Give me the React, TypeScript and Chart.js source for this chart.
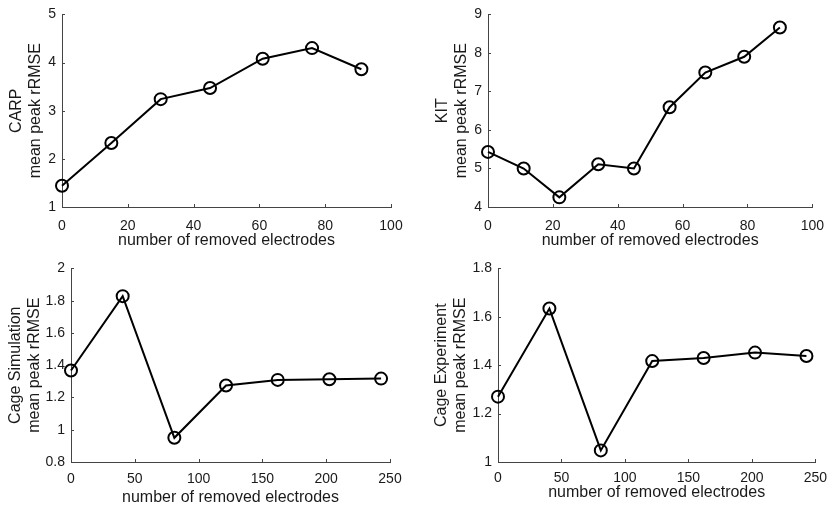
import React, { useEffect, useRef } from 'react';
import { Chart, registerables, ChartConfiguration, Plugin } from 'chart.js';
Chart.register(...registerables);

// values
const carpX = [0, 15, 30, 45, 61, 76, 91];
const carpY = [1.44, 2.33, 3.24, 3.47, 4.08, 4.3, 3.86];

const kitX = [0, 11, 22, 34, 45, 56, 67, 79, 90];
const kitY = [5.43, 5.0, 4.25, 5.11, 5.0, 6.59, 7.49, 7.9, 8.66];

const cageSimX = [0, 40.5, 81, 121.5, 162, 202.5, 243];
const cageSimY = [1.367, 1.828, 0.95, 1.274, 1.309, 1.313, 1.317];

const cageExpX = [0, 40.5, 81, 121.5, 162, 202.5, 243];
const cageExpY = [1.27, 1.634, 1.048, 1.417, 1.43, 1.452, 1.438];

const xTitle = 'number of removed electrodes';

const FONT = '"Liberation Sans", Arial, Helvetica, sans-serif';
const INK = '#1a1a1a';

// MATLAB-style ticks pointing into the plot area
const innerTicks: Plugin = {
  id: 'innerTicks',
  beforeDatasetsDraw(chart) {
    const { ctx, chartArea } = chart;
    const xs = chart.scales.x;
    const ys = chart.scales.y;
    ctx.save();
    ctx.strokeStyle = '#444';
    ctx.lineWidth = 1;
    ctx.beginPath();
    xs.ticks.forEach((t) => {
      const px = Math.round(xs.getPixelForValue(t.value)) + 0.5;
      ctx.moveTo(px, chartArea.bottom);
      ctx.lineTo(px, chartArea.bottom - 3);
    });
    ys.ticks.forEach((t) => {
      const py = Math.round(ys.getPixelForValue(t.value)) + 0.5;
      ctx.moveTo(chartArea.left, py);
      ctx.lineTo(chartArea.left + 3, py);
    });
    ctx.stroke();
    ctx.restore();
  },
};

const fmt = (v: string | number) => String(Number(Number(v).toFixed(1)));

interface PanelProps {
  xs: number[];
  ys: number[];
  name: string;
  xMax: number;
  xStep: number;
  yMin: number;
  yMax: number;
  yStep: number;
  left: number;
  top: number;
  width: number;
  height: number;
  pad: { top: number; right: number };
  yWidth: number;
  xHeight: number;
  yTitlePad: number;
  xTitlePad: number;
  xTickPad: number;
}

const Panel: React.FC<PanelProps> = (p) => {
  const canvasRef = useRef<HTMLCanvasElement>(null);

  useEffect(() => {
    if (!canvasRef.current) return;
    const config: ChartConfiguration<'line'> = {
      type: 'line',
      data: {
        datasets: [
          {
            data: p.xs.map((x, i) => ({ x, y: p.ys[i] })),
            borderColor: '#000',
            borderWidth: 2,
            pointRadius: 6,
            pointBorderWidth: 2,
            pointBorderColor: '#000',
            pointBackgroundColor: 'rgba(0,0,0,0)',
            tension: 0,
            clip: false,
          },
        ],
      },
      options: {
        animation: false,
        responsive: true,
        maintainAspectRatio: false,
        layout: { padding: { top: p.pad.top, right: p.pad.right, left: 0, bottom: 0 } },
        plugins: { legend: { display: false }, tooltip: { enabled: false } },
        scales: {
          x: {
            type: 'linear',
            min: 0,
            max: p.xMax,
            grid: { display: false, drawTicks: false },
            border: { display: true, color: '#444', width: 1 },
            ticks: {
              stepSize: p.xStep,
              padding: p.xTickPad,
              color: INK,
              font: { family: FONT, size: 14 },
              maxRotation: 0,
              callback: (v) => fmt(v),
            },
            title: {
              display: true,
              text: xTitle,
              color: INK,
              font: { family: FONT, size: 16 },
              padding: { top: 0, bottom: p.xTitlePad },
            },
            afterFit(scale) {
              scale.height = p.xHeight;
            },
          },
          y: {
            type: 'linear',
            min: p.yMin,
            max: p.yMax,
            grid: { display: false, drawTicks: false },
            border: { display: true, color: '#444', width: 1 },
            ticks: {
              stepSize: p.yStep,
              padding: 6,
              color: INK,
              font: { family: FONT, size: 14 },
              callback: (v) => fmt(v),
            },
            title: {
              display: true,
              text: [p.name, 'mean peak rRMSE'],
              color: INK,
              font: { family: FONT, size: 16 },
              padding: { top: p.yTitlePad, bottom: 0 },
            },
            afterFit(scale) {
              scale.width = p.yWidth;
            },
          },
        },
      },
      plugins: [innerTicks],
    };
    const chart = new Chart(canvasRef.current, config);
    return () => chart.destroy();
  }, [p]);

  return (
    <div style={{ position: 'absolute', left: p.left, top: p.top, width: p.width, height: p.height }}>
      <canvas ref={canvasRef}></canvas>
    </div>
  );
};

const App: React.FC = () => {
  return (
    <div style={{ position: 'absolute', left: 0, top: 0, width: 835, height: 508, background: '#fff' }}>
      <Panel
        xs={carpX} ys={carpY} name="CARP"
        xMax={100} xStep={20} yMin={1} yMax={5} yStep={1}
        left={0} top={0} width={417} height={254}
        pad={{ top: 11, right: 26 }} yWidth={62} xHeight={47}
        yTitlePad={7} xTitlePad={3.5} xTickPad={11}
      />
      <Panel
        xs={kitX} ys={kitY} name="KIT"
        xMax={100} xStep={20} yMin={4} yMax={9} yStep={1}
        left={417} top={0} width={418} height={254}
        pad={{ top: 11, right: 16 }} yWidth={71} xHeight={47}
        yTitlePad={16} xTitlePad={3.5} xTickPad={11}
      />
      <Panel
        xs={cageSimX} ys={cageSimY} name="Cage Simulation"
        xMax={250} xStep={50} yMin={0.8} yMax={2} yStep={0.2}
        left={0} top={254} width={417} height={254}
        pad={{ top: 14, right: 27 }} yWidth={71} xHeight={46}
        yTitlePad={6} xTitlePad={1} xTickPad={9}
      />
      <Panel
        xs={cageExpX} ys={cageExpY} name="Cage Experiment"
        xMax={250} xStep={50} yMin={1} yMax={1.8} yStep={0.2}
        left={417} top={254} width={418} height={254}
        pad={{ top: 14, right: 17 }} yWidth={81} xHeight={46}
        yTitlePad={15} xTitlePad={5.7} xTickPad={8}
      />
    </div>
  );
};

export default App;
